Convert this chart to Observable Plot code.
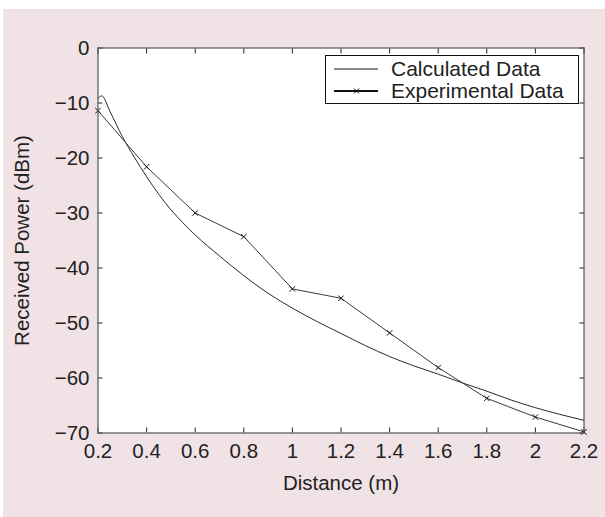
<!DOCTYPE html>
<html><head><meta charset="utf-8">
<script src="https://cdn.jsdelivr.net/npm/d3@7"></script>
<script src="https://cdn.jsdelivr.net/npm/@observablehq/plot@0.6"></script>
<style>
html,body{margin:0;padding:0;background:#fff;}
#bg{position:absolute;left:3px;top:9px;width:602px;height:508px;background:#f0e2e5;}
#chart{position:absolute;left:0;top:0;}
#legend{position:absolute;left:325px;top:55px;}
svg text{font-family:"Liberation Sans",Arial,Helvetica,sans-serif;}
</style></head><body>
<div id="bg"></div><div id="chart"></div><div id="legend"></div>
<script>
// ---- data ----
const expDistance = [0.2, 0.4, 0.6, 0.8, 1.0, 1.2, 1.4, 1.6, 1.8, 2.0, 2.2];
const experimental = [-11.4, -21.6, -30.0, -34.3, -43.8, -45.5, -51.8, -58.1, -63.7, -67.1, -69.8];
const calcDistance = [0.2, 0.215, 0.25, 0.3, 0.35, 0.4, 0.45, 0.5, 0.55, 0.6, 0.7, 0.8, 0.9, 1.0, 1.1, 1.2, 1.3, 1.4, 1.5, 1.6, 1.7, 1.8, 1.9, 2.0, 2.1, 2.2];
const calculated = [-9.2, -8.7, -11.6, -16.1, -19.9, -23.4, -26.6, -29.4, -31.8, -34.0, -37.8, -41.4, -44.6, -47.3, -49.7, -51.9, -54.1, -56.1, -57.8, -59.3, -60.9, -62.4, -64.0, -65.4, -66.6, -67.7];
const xTicks = [0.2, 0.4, 0.6, 0.8, 1.0, 1.2, 1.4, 1.6, 1.8, 2.0, 2.2];
const xTickLabels = ["0.2", "0.4", "0.6", "0.8", "1", "1.2", "1.4", "1.6", "1.8", "2", "2.2"];
const yTicks = [0, -10, -20, -30, -40, -50, -60, -70];
const yTickLabels = ["0", "\u221210", "\u221220", "\u221230", "\u221240", "\u221250", "\u221260", "\u221270"];
const seriesNames = ["Calculated Data", "Experimental Data"];
const xTitle = "Distance (m)";
const yTitle = "Received Power (dBm)";

const expRows = expDistance.map((d, i) => ({d, v: experimental[i]}));
const calcRows = calcDistance.map((d, i) => ({d, v: calculated[i]}));
const lab = (ticks, labels) => d => labels[ticks.findIndex(t => Math.abs(t - d) < 1e-9)];

const FS = 20.5;
const plot = Plot.plot({
  width: 605, height: 517,
  marginLeft: 97.5, marginRight: 21.5, marginTop: 47.5, marginBottom: 84.5,
  style: {background: "transparent", fontFamily: "Liberation Sans, Arial, sans-serif", fontSize: FS + "px", color: "#222"},
  x: {domain: [0.2, 2.2]},
  y: {domain: [-70, 0]},
  marks: [
    Plot.frame({fill: "white", stroke: null}),
    Plot.line(calcRows, {x: "d", y: "v", stroke: "#2a2a2a", strokeWidth: 1, curve: "monotone-x"}),
    Plot.line(expRows, {x: "d", y: "v", stroke: "#3a3a3a", strokeWidth: 1}),
    Plot.dot(expRows, {x: "d", y: "v", symbol: "times", r: 2.6, stroke: "#111", strokeWidth: 1}),
    Plot.axisX({anchor: "bottom", ticks: xTicks, tickSize: -5, tickPadding: 15.5, tickFormat: lab(xTicks, xTickLabels), label: null, color: "#222"}),
    Plot.axisX({anchor: "top", ticks: xTicks, tickSize: -5, tickFormat: () => "", label: null, color: "#222"}),
    Plot.axisY({anchor: "left", ticks: yTicks, tickSize: -5, tickPadding: 13.5, tickFormat: lab(yTicks, yTickLabels), label: null, color: "#222"}),
    Plot.axisY({anchor: "right", ticks: yTicks, tickSize: -5, tickFormat: () => "", label: null, color: "#222"}),
    Plot.frame({stroke: "#555", strokeWidth: 1.2}),
    Plot.text([xTitle], {text: d => d, frameAnchor: "bottom", dy: 50.5, lineAnchor: "middle", textAnchor: "middle", fontSize: FS, fill: "#222"}),
    Plot.text([yTitle], {text: d => d, frameAnchor: "left", dx: -75.5, rotate: -90, lineAnchor: "middle", textAnchor: "middle", fontSize: FS, fill: "#222"})
  ]
});
document.getElementById("chart").append(plot);

// ---- legend ----
const lg = d3.select("#legend").append("svg").attr("width", 255).attr("height", 50);
lg.append("rect").attr("x", 0.5).attr("y", 0.5).attr("width", 253).attr("height", 48)
  .attr("fill", "white").attr("stroke", "#111").attr("stroke-width", 1);
lg.append("line").attr("x1", 9).attr("x2", 53).attr("y1", 14).attr("y2", 14).attr("stroke", "#111").attr("stroke-width", 1);
lg.append("line").attr("x1", 9).attr("x2", 53).attr("y1", 36).attr("y2", 36).attr("stroke", "#111").attr("stroke-width", 2);
lg.append("path").attr("d", "M29,33.5L34,38.5M29,38.5L34,33.5").attr("stroke", "#111").attr("stroke-width", 1);
lg.selectAll("text.l").data(seriesNames).join("text").attr("class", "l")
  .attr("x", 66).attr("y", (d, i) => i === 0 ? 21 : 43)
  .attr("font-size", 21).attr("fill", "#222").text(d => d);
</script>
</body></html>
